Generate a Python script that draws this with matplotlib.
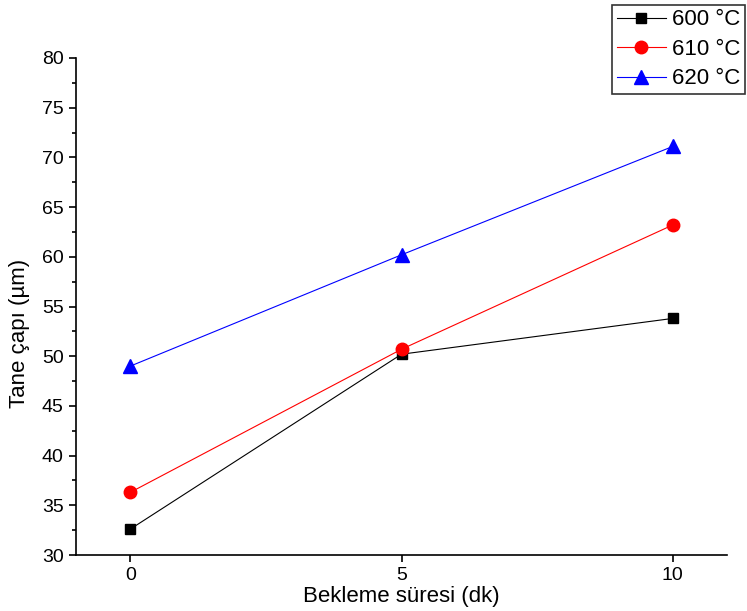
import matplotlib
matplotlib.use("Agg")
import matplotlib.pyplot as plt
from matplotlib.ticker import MultipleLocator

plt.rcParams['font.family'] = ['Liberation Sans', 'DejaVu Sans']

# Holding time (min) and grain diameter (µm) per annealing temperature
times = [0, 5, 10]
d600 = [32.6, 50.2, 53.8]
d610 = [36.3, 50.7, 63.2]
d620 = [49.0, 60.2, 71.1]
labels = ["600 °C", "610 °C", "620 °C"]
xticks = [0, 5, 10]

fig = plt.figure(figsize=(7.47, 6.11), dpi=100)
ax = fig.add_axes([76 / 747, 1 - 555 / 611, (727 - 76) / 747, (555 - 58) / 611])

ax.plot(times, d600, color='black', lw=0.8, marker='s', ms=7.5, label=labels[0])
ax.plot(times, d610, color='red', lw=0.8, marker='o', ms=9, label=labels[1])
ax.plot(times, d620, color='blue', lw=0.8, marker='^', ms=9.5, label=labels[2])

ax.set_xlim(-1, 11)
ax.set_ylim(30, 80)
ax.set_xticks(xticks)
ax.yaxis.set_major_locator(MultipleLocator(5))
ax.yaxis.set_minor_locator(MultipleLocator(2.5))

for s in ['top', 'right']:
    ax.spines[s].set_visible(False)
for s in ['left', 'bottom']:
    ax.spines[s].set_linewidth(1.2)

ax.tick_params(axis='both', which='major', direction='out', length=5, width=1.2,
               labelsize=14, pad=4)
ax.tick_params(axis='y', which='minor', direction='out', length=3, width=1.2)

ax.set_xlabel("Bekleme süresi (dk)", fontsize=16)
ax.set_ylabel("Tane çapı (µm)", fontsize=16)
ax.xaxis.set_label_coords(0.5, -0.063)
ax.yaxis.set_label_coords(-0.07, 0.445)

leg = fig.legend(loc='upper right', bbox_to_anchor=(745 / 747, 1 - 5 / 611),
                 bbox_transform=fig.transFigure, borderaxespad=0, fontsize=16,
                 handlelength=2.2, handletextpad=0.3, labelspacing=0.38,
                 borderpad=0.2, fancybox=False, frameon=True)
leg.get_frame().set_edgecolor('black')
leg.get_frame().set_linewidth(1.2)

fig.savefig("out.png", dpi=100)
